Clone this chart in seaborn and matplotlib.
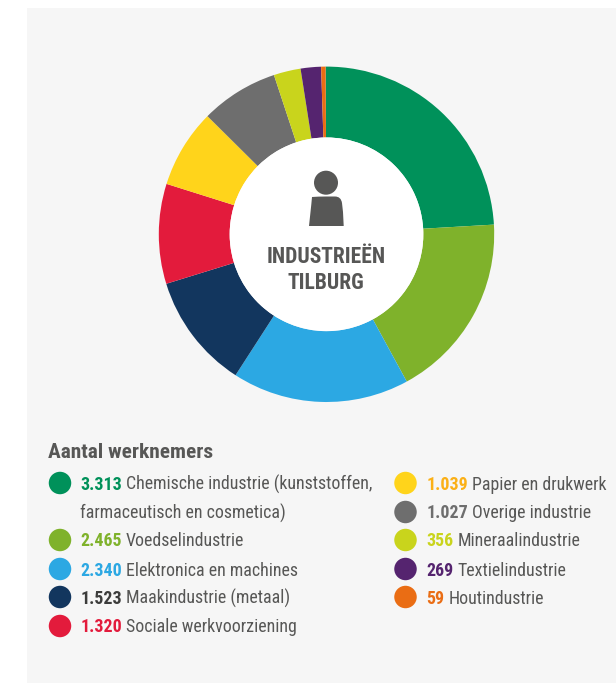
import matplotlib
matplotlib.use("Agg")
import matplotlib.pyplot as plt
import pandas as pd
import seaborn as sns
from matplotlib.patches import Circle, PathPatch, Rectangle
from matplotlib.path import Path

# Data
labels = ["Chemische industrie (kunststoffen,", "Voedselindustrie", "Elektronica en machines",
          "Maakindustrie (metaal)", "Sociale werkvoorziening", "Papier en drukwerk",
          "Overige industrie", "Mineraalindustrie", "Textielindustrie", "Houtindustrie"]
values = [3313, 2465, 2340, 1523, 1320, 1039, 1027, 356, 269, 59]
value_labels = ["3.313", "2.465", "2.340", "1.523", "1.320", "1.039", "1.027", "356", "269", "59"]
colors = ["#00915A", "#7FB22B", "#2CA8E3", "#12365E", "#E31B3C",
          "#FFD41B", "#6E6E6E", "#C9D41C", "#55246F", "#EA6D14"]
number_colors = ["#00915A", "#7FB22B", "#2CA8E3", "#3C3C3B", "#E31B3C",
                 "#FBB016", "#6E6E6E", "#C9D41C", "#55246F", "#EA6D14"]

# Layout in pixels
W, H = 616, 683
TEXT = "#575756"
row_y = [483, 540, 569, 597, 626, 483, 512, 540, 569, 597]
dot_x = [60] * 5 + [405.5] * 5
num_x = [80.5] * 5 + [426.5] * 5

sns.set_theme(style="white")
plt.rcParams["font.family"] = ["Roboto Condensed", "Liberation Sans Narrow", "Roboto", "DejaVu Sans"]

fig = plt.figure(figsize=(W / 100, H / 100), dpi=100, facecolor="white")

# Overlay in pixel coordinates
bg = fig.add_axes([0, 0, 1, 1], zorder=0)
bg.set_xlim(0, W)
bg.set_ylim(H, 0)
bg.axis("off")
bg.add_patch(Rectangle((27, 8), W - 27, H - 8, color="#F6F6F6", lw=0))

# Donut
cx, cy, r = 326.5, 234.3, 167.7
ax = fig.add_axes([(cx - r) / W, (H - cy - r) / H, 2 * r / W, 2 * r / H], zorder=1)
ax.pie(values, colors=sns.color_palette(colors), startangle=90.3, counterclock=False, radius=1,
       wedgeprops=dict(width=71 / 168, linewidth=0))
ax.set_xlim(-1, 1)
ax.set_ylim(-1, 1)
ax.add_patch(Circle((0, 0), 97 / 168, color="white", lw=0, zorder=5))

ov = fig.add_axes([0, 0, 1, 1], zorder=2)
ov.set_xlim(0, W)
ov.set_ylim(H, 0)
ov.axis("off")
ov.patch.set_alpha(0)

# Person icon
ov.add_patch(Circle((326, 182.7), 12, color=TEXT, lw=0))
body = Path([(309, 226), (310.5, 212), (311.5, 203), (312, 197), (318, 196.5), (326, 196.5),
             (335, 196.5), (341, 196.5), (342, 203), (343, 212), (343.7, 226), (309, 226)],
            [Path.MOVETO, Path.LINETO, Path.CURVE3, Path.CURVE3, Path.CURVE3, Path.LINETO,
             Path.LINETO, Path.CURVE3, Path.CURVE3, Path.LINETO, Path.LINETO, Path.CLOSEPOLY])
ov.add_patch(PathPatch(body, color=TEXT, lw=0))

ov.text(326, 257, "INDUSTRIEËN", ha="center", va="center", fontsize=15.5, fontweight="bold", color=TEXT)
ov.text(326, 283, "TILBURG", ha="center", va="center", fontsize=15.5, fontweight="bold", color=TEXT)

# Legend
ov.text(48, 452, "Aantal werknemers", ha="left", va="center", fontsize=15.4, fontweight="bold", color=TEXT)

legend_df = pd.DataFrame({"x": dot_x, "y": row_y, "name": labels})
sns.scatterplot(data=legend_df, x="x", y="y", hue="name", palette=colors, hue_order=labels,
                s=262, linewidth=0, legend=False, ax=ov, clip_on=False)
ov.set_xlim(0, W)
ov.set_ylim(H, 0)

renderer = fig.canvas.get_renderer()
for i in range(len(labels)):
    num = ov.text(num_x[i], row_y[i] + 6.5, value_labels[i], ha="left", va="baseline",
                  fontsize=12.9, fontweight="bold", color=number_colors[i])
    # label starts right after the bold number, on the same baseline
    end_x = num.get_window_extent(renderer).x1
    ov.text(end_x + 4, row_y[i] + 6.5, labels[i], ha="left", va="baseline",
            fontsize=12.9, color=TEXT)
ov.text(num_x[0], 518.5, "farmaceutisch en cosmetica)", ha="left", va="baseline", fontsize=12.9, color=TEXT)

fig.savefig("out.png", dpi=100, facecolor="white")
